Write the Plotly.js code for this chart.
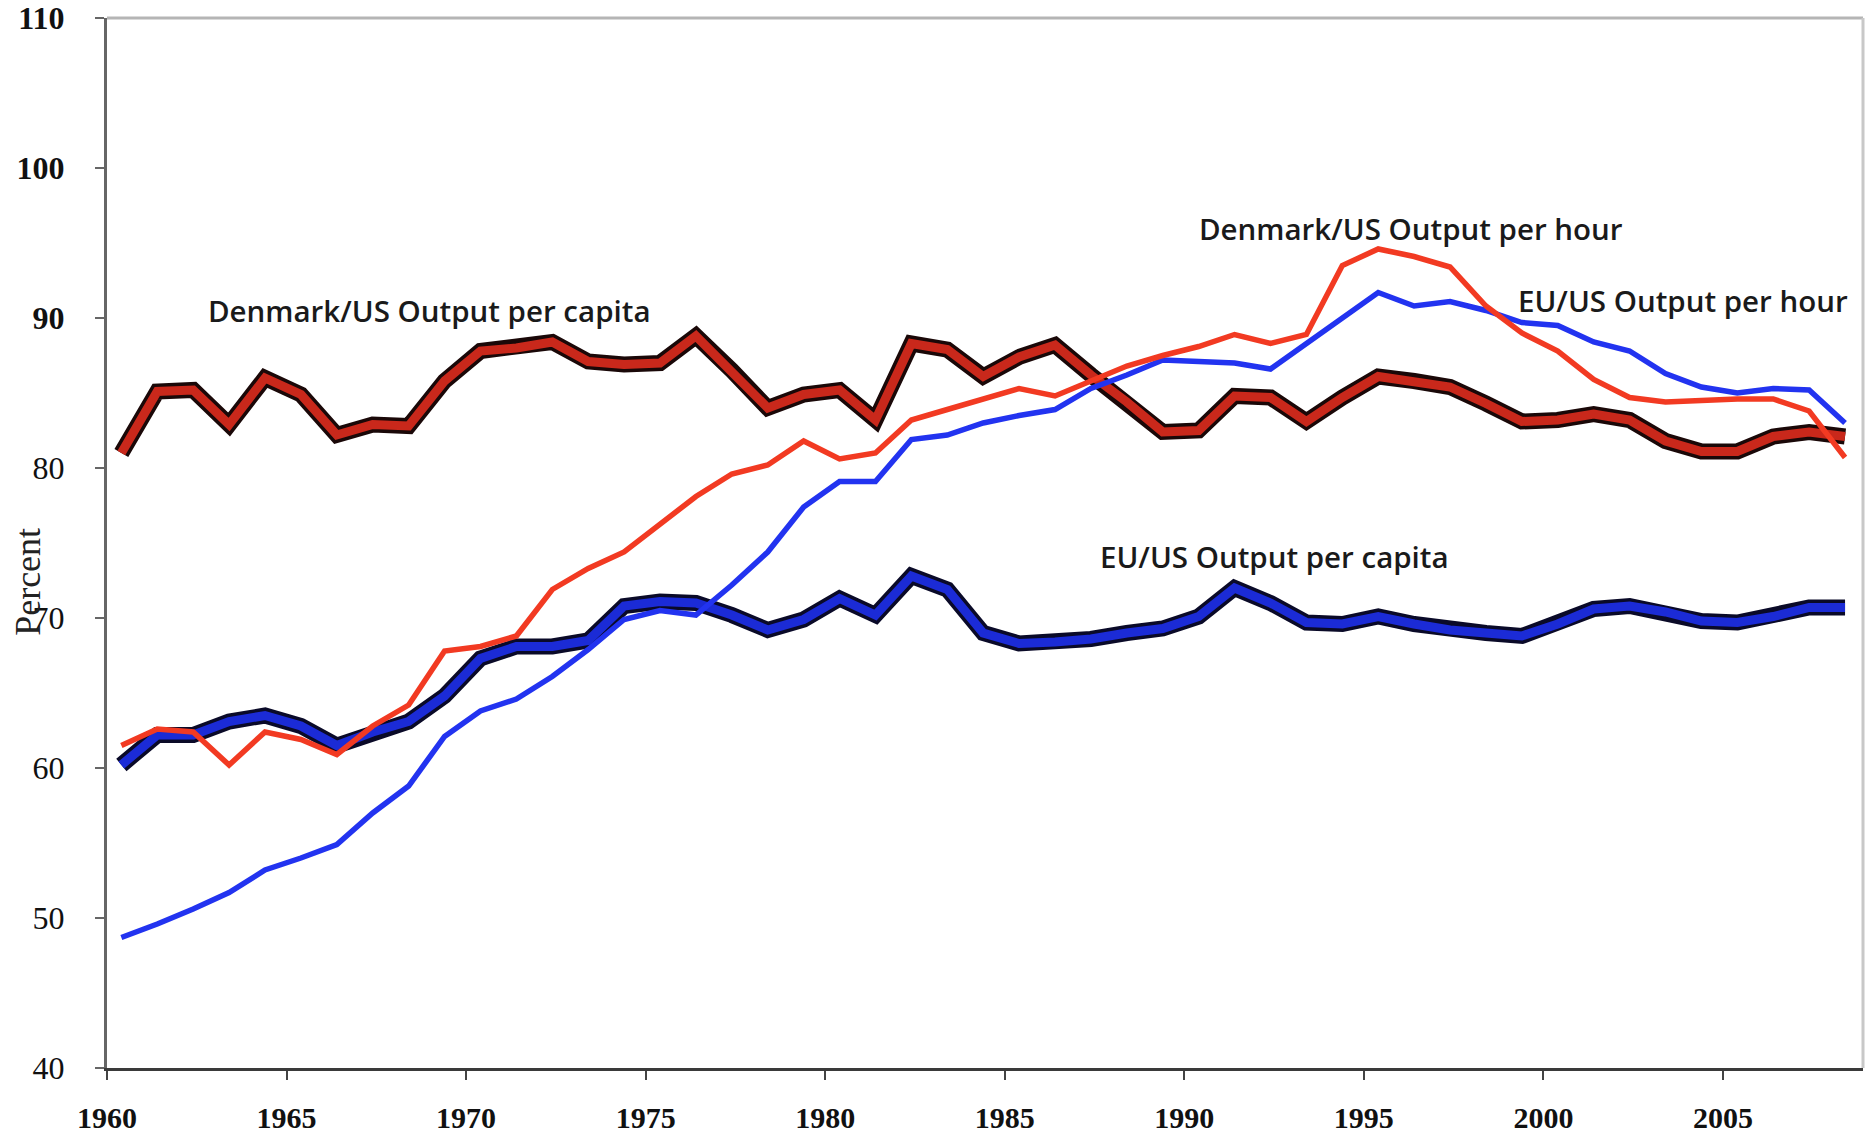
<!DOCTYPE html>
<html>
<head>
<meta charset="utf-8">
<script src="https://cdn.plot.ly/plotly-3.0.1.min.js"></script>
<style>
  html, body { margin: 0; padding: 0; background: #fff; }
  #chart { width: 1874px; height: 1139px; }
</style>
</head>
<body>
<div id="chart"></div>
<script>
const years = [1960,1961,1962,1963,1964,1965,1966,1967,1968,1969,
               1970,1971,1972,1973,1974,1975,1976,1977,1978,1979,
               1980,1981,1982,1983,1984,1985,1986,1987,1988,1989,
               1990,1991,1992,1993,1994,1995,1996,1997,1998,1999,
               2000,2001,2002,2003,2004,2005,2006,2007,2008];

const denmarkPerCapita = [81.0,85.1,85.2,82.9,86.0,84.9,82.2,82.9,82.8,85.8,
                          87.8,88.0,88.4,87.1,86.9,87.0,88.8,86.5,84.0,84.9,
                          85.2,83.2,88.3,87.9,86.1,87.4,88.2,86.2,84.4,82.4,
                          82.5,84.8,84.7,83.1,84.7,86.1,85.8,85.4,84.3,83.1,
                          83.2,83.6,83.2,81.8,81.1,81.1,82.1,82.4,82.1];

const euPerCapita = [60.2,62.2,62.2,63.1,63.5,62.8,61.5,62.4,63.1,64.8,
                     67.3,68.1,68.1,68.5,70.8,71.1,71.0,70.2,69.2,69.9,
                     71.3,70.2,72.8,71.9,69.0,68.3,68.4,68.6,69.0,69.3,
                     70.1,72.0,71.0,69.7,69.6,70.1,69.6,69.2,69.0,68.8,
                     69.6,70.6,70.8,70.4,69.8,69.7,70.1,70.7,70.7];

const denmarkPerHour = [61.5,62.6,62.4,60.2,62.4,61.9,60.9,62.8,64.2,67.8,
                        68.1,68.8,71.9,73.3,74.4,76.2,78.1,79.6,80.2,81.8,
                        80.6,81.0,83.2,83.9,84.6,85.3,84.8,85.8,86.8,87.5,
                        88.1,88.9,88.3,88.9,93.5,94.6,94.1,93.4,90.8,89.0,
                        87.8,85.9,84.7,84.4,84.5,84.6,84.6,83.8,80.7];

const euPerHour = [48.7,49.6,50.6,51.7,53.2,54.0,54.9,57.0,58.8,62.1,
                   63.8,64.6,66.1,67.9,69.9,70.5,70.2,72.2,74.4,77.4,
                   79.1,79.1,81.9,82.2,83.0,83.5,83.9,85.3,86.2,87.2,
                   87.1,87.0,86.6,88.3,90.1,91.7,90.8,91.1,90.5,89.7,
                   89.5,88.4,87.8,86.3,85.4,85.0,85.3,85.2,83.0];

const xTickYears = [1960,1965,1970,1975,1980,1985,1990,1995,2000,2005];
const yTickValues = [40,50,60,70,80,90,100,110];
const yTickLabels = ['40','50','60','70','80','<b>90</b>','<b>100</b>','<b>110</b>'];

const seriesLabels = [
  {text: 'Denmark/US Output per capita', x: 1968.57, y: 90.47},
  {text: 'Denmark/US Output per hour',   x: 1995.92, y: 96.0},
  {text: 'EU/US Output per hour',        x: 2003.5,  y: 91.2},
  {text: 'EU/US Output per capita',      x: 1992.1,  y: 74.07}
];

// tick marks sit at the start of each year; data points sit inside the year
const tickOffset = 0.4;

const traces = [
  {x: years, y: euPerCapita, mode: 'lines', line: {color: '#0a0a28', width: 16}, hoverinfo: 'skip'},
  {x: years, y: euPerCapita, mode: 'lines', line: {color: '#1b2bd6', width: 9}, name: 'EU/US Output per capita'},
  {x: years, y: denmarkPerCapita, mode: 'lines', line: {color: '#1a0808', width: 16}, hoverinfo: 'skip'},
  {x: years, y: denmarkPerCapita, mode: 'lines', line: {color: '#c9281b', width: 9}, name: 'Denmark/US Output per capita'},
  {x: years, y: euPerHour, mode: 'lines', line: {color: '#2233f0', width: 5.5}, name: 'EU/US Output per hour'},
  {x: years, y: denmarkPerHour, mode: 'lines', line: {color: '#f23a22', width: 5.5}, name: 'Denmark/US Output per hour'}
];

const layout = {
  width: 1874, height: 1139,
  margin: {l: 107, r: 11, t: 18, b: 71},
  paper_bgcolor: '#ffffff', plot_bgcolor: '#ffffff',
  showlegend: false,
  hovermode: false,
  xaxis: {
    range: [1959.6, 2008.5],
    tickmode: 'array',
    tickvals: xTickYears.map(v => v - tickOffset),
    ticktext: xTickYears.map(v => '<b>' + v + '</b>'),
    ticks: 'outside', ticklen: 9, tickwidth: 2, tickcolor: '#444',
    showline: true, linecolor: '#3a3a3a', linewidth: 3,
    showgrid: false, zeroline: false,
    ticklabelstandoff: 12,
    tickfont: {family: 'Liberation Serif, Times New Roman, serif', size: 30, color: '#111'}
  },
  yaxis: {
    range: [40, 110],
    tickmode: 'array',
    tickvals: yTickValues,
    ticktext: yTickLabels,
    ticks: 'outside', ticklen: 9, tickwidth: 2, tickcolor: '#666',
    showline: true, linecolor: '#666', linewidth: 3,
    showgrid: false, zeroline: false,
    ticklabelstandoff: 24,
    tickfont: {family: 'Liberation Serif, Times New Roman, serif', size: 32, color: '#111'}
  },
  shapes: [
    {type: 'line', xref: 'paper', yref: 'paper', x0: 0, x1: 1, y0: 1, y1: 1,
     line: {color: '#b5b5b5', width: 3}},
    {type: 'line', xref: 'paper', yref: 'paper', x0: 1, x1: 1, y0: 0, y1: 1,
     line: {color: '#c8c8c8', width: 3}}
  ],
  annotations: seriesLabels.map(s => ({
    text: s.text, x: s.x, y: s.y, xref: 'x', yref: 'y',
    showarrow: false, xanchor: 'center', yanchor: 'middle',
    font: {family: 'Open Sans, Noto Sans, sans-serif', size: 29.5, weight: 600, color: '#1a1a1a'}
  })).concat([{
    text: 'Percent', xref: 'paper', yref: 'paper', x: 0, y: 0.463,
    xshift: -79, showarrow: false, textangle: -90,
    xanchor: 'center', yanchor: 'middle',
    font: {family: 'Liberation Serif, Times New Roman, serif', size: 36, color: '#222'}
  }])
};

Plotly.newPlot('chart', traces, layout, {staticPlot: true, displayModeBar: false});
</script>
</body>
</html>
